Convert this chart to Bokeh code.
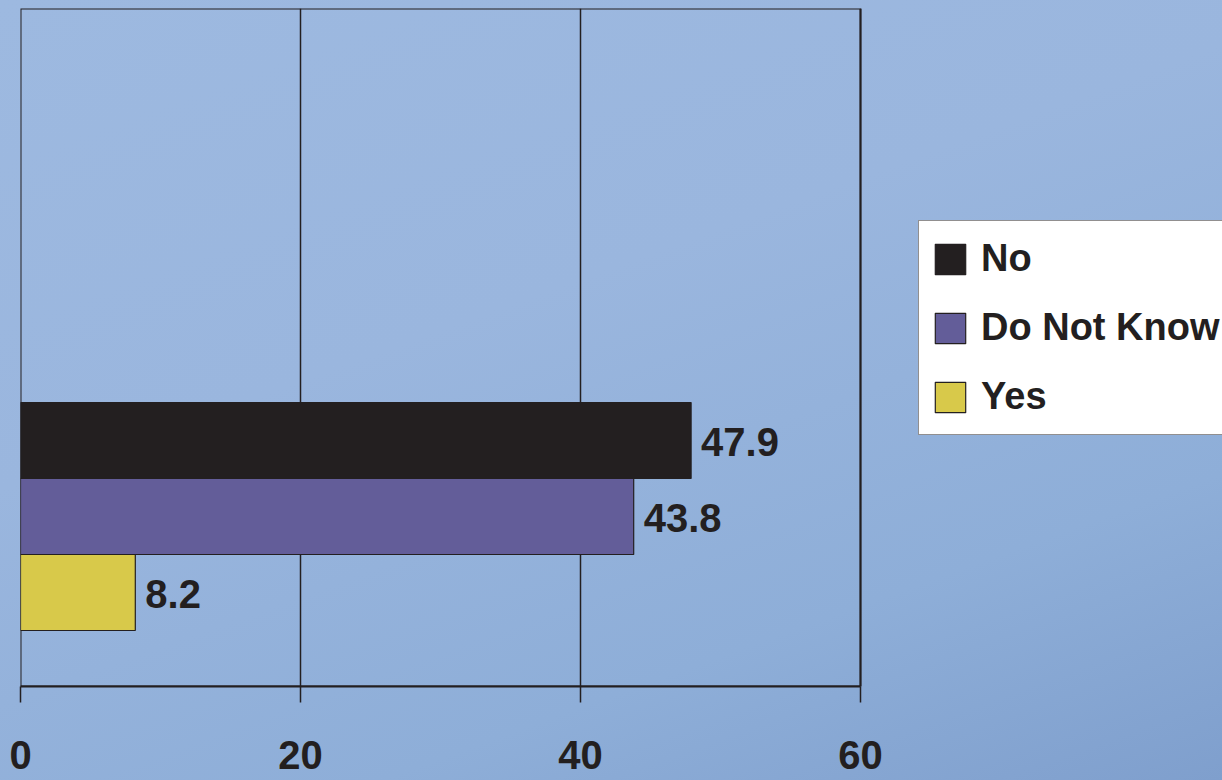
from bokeh.plotting import figure
from bokeh.models import ColumnDataSource, Range1d, Legend, LegendItem, FixedTicker, BoxAnnotation
from bokeh.core.properties import value
from bokeh.embed import file_html
from bokeh.resources import INLINE

categories = ["Yes", "Do Not Know", "No"]
values = [8.2, 43.8, 47.9]
labels = ["8.2", "43.8", "47.9"]
colors = ["#d8c94a", "#635d99", "#231f20"]
legend_order = ["No", "Do Not Know", "Yes"]
x_ticks = [0, 20, 40, 60]
x_max = 60

FONT = "'Liberation Sans', Arial, sans-serif"
INK = "#231f20"

pos = list(range(len(categories)))
src = ColumnDataSource(dict(cat=categories, val=values, lab=labels, col=colors, pos=pos))

# frame spans from x=20 to the right edge; the 0..60 plot box is drawn inside it
frame_w = 1222 - 20
box_w = 840
p = figure(width=1222, height=780, output_backend="svg", toolbar_location=None,
           x_range=Range1d(0, x_max * frame_w / box_w), y_range=Range1d(-1.237, 7.684),
           min_border_left=20, min_border_right=0, min_border_top=8, min_border_bottom=94)

p.styles = {"background": "linear-gradient(160deg, #9db9e0 0%, #9ab6de 40%, #8eaed8 75%, #7f9fcd 100%)"}
p.background_fill_alpha = 0
p.border_fill_alpha = 0
p.outline_line_color = None

p.add_layout(BoxAnnotation(left=0, right=x_max, fill_alpha=0,
                           line_color=INK, line_alpha=1, line_width=2, level="underlay"))

renderers = []
for i, c in enumerate(categories):
    s = ColumnDataSource(dict(pos=[pos[i]], val=[values[i]], col=[colors[i]]))
    r = p.hbar(y="pos", right="val", left=0, height=1.0, source=s,
               fill_color="col", line_color=INK, line_width=1.2)
    renderers.append(r)

p.text(x="val", y="pos", text="lab", source=src, x_offset=10, y_offset=2,
       text_baseline="middle", text_align="left",
       text_font=value(FONT), text_font_style="bold", text_font_size="40px",
       text_color=INK)

p.yaxis.visible = False
p.ygrid.visible = False
p.xgrid.ticker = FixedTicker(ticks=x_ticks)
p.xgrid.grid_line_color = INK
p.xgrid.grid_line_width = 1.5

ax = p.xaxis[0]
ax.ticker = FixedTicker(ticks=x_ticks)
ax.bounds = (0, x_max)
ax.axis_line_color = INK
ax.axis_line_width = 2
ax.major_tick_line_color = INK
ax.major_tick_line_width = 1.5
ax.major_tick_out = 16
ax.major_tick_in = 0
ax.minor_tick_line_color = None
ax.major_label_standoff = 38
ax.major_label_text_font = FONT
ax.major_label_text_font_style = "bold"
ax.major_label_text_font_size = "40px"
ax.major_label_text_color = INK

name_to_r = {c: renderers[i] for i, c in enumerate(categories)}
items = [LegendItem(label=n, renderers=[name_to_r[n]]) for n in legend_order]
legend = Legend(items=items, location=(898, 251), orientation="vertical",
                label_text_font=FONT, label_text_font_style="bold",
                label_text_font_size="38px", label_text_color=INK,
                glyph_width=38, glyph_height=38, label_height=51, label_standoff=12,
                spacing=18, padding=12, margin=0,
                border_line_color=INK, border_line_width=1.5,
                background_fill_color="white", background_fill_alpha=1)
p.add_layout(legend, "center")

open("out.html", "w").write(file_html(p, INLINE))
